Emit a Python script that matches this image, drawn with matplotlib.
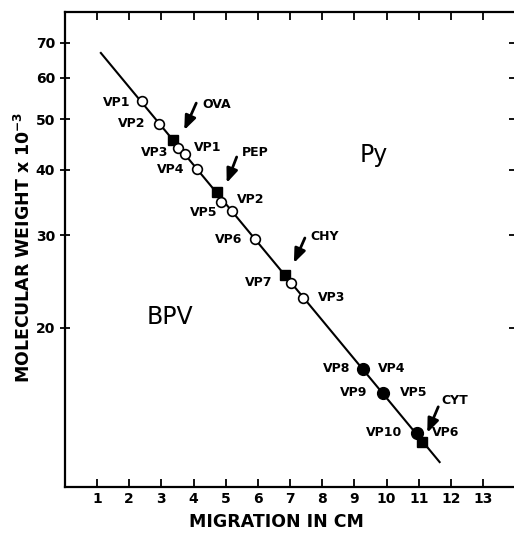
import matplotlib
matplotlib.use("Agg")
import matplotlib.pyplot as plt
from matplotlib.transforms import offset_copy

plt.rcParams['font.family'] = ['DejaVu Sans']
plt.rcParams['mathtext.default'] = 'bf'

# migration (cm) and molecular weight (x 10^-3)
bpv_open_x = [2.39, 2.93, 3.52, 4.10, 4.87, 5.91, 7.04]
bpv_open_mw = [54.2, 48.9, 44.1, 40.2, 34.8, 29.5, 24.3]
bpv_open_names = ["VP1", "VP2", "VP3", "VP4", "VP5", "VP6", "VP7"]

py_open_x = [3.75, 5.19, 7.40]
py_open_mw = [42.9, 33.4, 22.8]
py_open_names = ["VP1", "VP2", "VP3"]

# filled circles: BPV VP8-VP10 run together with Py VP4-VP6
shared_x = [9.28, 9.90, 10.94]
shared_mw = [16.7, 15.0, 12.6]
shared_bpv_names = ["VP8", "VP9", "VP10"]
shared_py_names = ["VP4", "VP5", "VP6"]

# marker proteins
std_x = [3.37, 4.72, 6.84, 11.11]
std_mw = [45.6, 36.3, 25.2, 12.1]
std_names = ["OVA", "PEP", "CHY", "CYT"]

# standard curve
line_x = [1.12, 11.65]
line_mw = [66.9, 11.07]

y_ticks = [20, 30, 40, 50, 60, 70]
x_ticks = list(range(1, 14))

fig = plt.figure(figsize=(5.14, 5.34), dpi=100)
ax = fig.add_axes([0.1261, 0.0880, 0.8763, 0.8895])

ax.plot(line_x, line_mw, color='black', lw=1.5, zorder=2)
ax.plot(std_x, std_mw, 's', color='black', ms=7.5, zorder=3)
ax.plot(bpv_open_x + py_open_x, bpv_open_mw + py_open_mw, 'o', mfc='white',
        mec='black', mew=1.2, ms=7, zorder=4)
ax.plot(shared_x, shared_mw, 'o', color='black', ms=8.5, zorder=4)

lab = dict(fontsize=9, fontweight='bold', textcoords='offset pixels', va='center')

# left-hand (BPV) labels, offsets in pixels
bpv_off = [(-11, -2), (-14, 1), (-10, -5), (-12, -1), (-4, -11), (-13, 0), (-19, 1)]
for x, y, name, off in zip(bpv_open_x, bpv_open_mw, bpv_open_names, bpv_off):
    ax.annotate(name, (x, y), xytext=off, ha='right', **lab)

py_off = [(8, 7), (5, 11), (15, 0)]
for x, y, name, off in zip(py_open_x, py_open_mw, py_open_names, py_off):
    ax.annotate(name, (x, y), xytext=off, ha='left', **lab)

for x, y, left, right, dl, dr in zip(shared_x, shared_mw, shared_bpv_names,
                                     shared_py_names, [-13, -16, -15], [15, 17, 15]):
    ax.annotate(left, (x, y), xytext=(dl, 0), ha='right', **lab)
    ax.annotate(right, (x, y), xytext=(dr, 0), ha='left', **lab)

# marker names with arrows: (text offset, arrow tail, arrow head)
std_off = [((29, 36), (23, 37), (11, 10)),
           ((25, 39), (20, 35), (10, 9)),
           ((25, 38), (20, 37), (9, 12)),
           ((19, 41), (16, 35), (5, 9))]
for x, y, name, (t, tail, head) in zip(std_x, std_mw, std_names, std_off):
    ax.annotate(name, (x, y), xytext=t, ha='left', **lab)
    tr = offset_copy(ax.transData, fig=fig, x=head[0], y=head[1], units='dots')
    ax.annotate('', xy=(x, y), xycoords=tr, xytext=(tail[0] - head[0], tail[1] - head[1]),
                textcoords='offset pixels',
                arrowprops=dict(arrowstyle='-|>,head_length=0.7,head_width=0.28',
                                color='black', lw=2, mutation_scale=12,
                                shrinkA=0, shrinkB=0))

ax.text(0.1825, 0.343, "BPV", transform=ax.transAxes, fontsize=17, va='baseline')
ax.text(0.655, 0.684, "Py", transform=ax.transAxes, fontsize=17, va='baseline')

ax.set_yscale('log')
ax.set_xlim(0, 14)
ax.set_ylim(9.92, 80.1)
ax.set_xticks(x_ticks)
ax.set_xticklabels([str(v) for v in x_ticks], fontsize=10, fontweight='bold')
ax.set_yticks(y_ticks)
ax.set_yticklabels([str(v) for v in y_ticks], fontsize=10, fontweight='bold')
ax.yaxis.set_minor_locator(matplotlib.ticker.NullLocator())
ax.tick_params(axis='x', direction='in', top=True, length=5.5, width=1.3, pad=3.5)
ax.tick_params(axis='y', direction='inout', length=7, width=1.3, pad=3.5)
for side in ['left', 'bottom', 'top']:
    ax.spines[side].set_linewidth(1.6)
ax.spines['right'].set_visible(False)

# right-hand inward ticks
ax2 = ax.twinx()
ax2.set_yscale('log')
ax2.set_ylim(ax.get_ylim())
ax2.set_yticks(y_ticks)
ax2.yaxis.set_minor_locator(matplotlib.ticker.NullLocator())
ax2.tick_params(axis='y', direction='in', length=4, width=1.3, labelright=False)
for s in ax2.spines.values():
    s.set_visible(False)

fig.text(0.047, 0.5375, "MOLECULAR WEIGHT x 10$^{-3}$", rotation=90, ha='center',
         va='center', fontsize=12.5, fontweight='bold')
fig.text(0.537, 0.0131, "MIGRATION IN CM", ha='center', va='baseline',
         fontsize=12.5, fontweight='bold')

fig.savefig("out.png", dpi=100)
